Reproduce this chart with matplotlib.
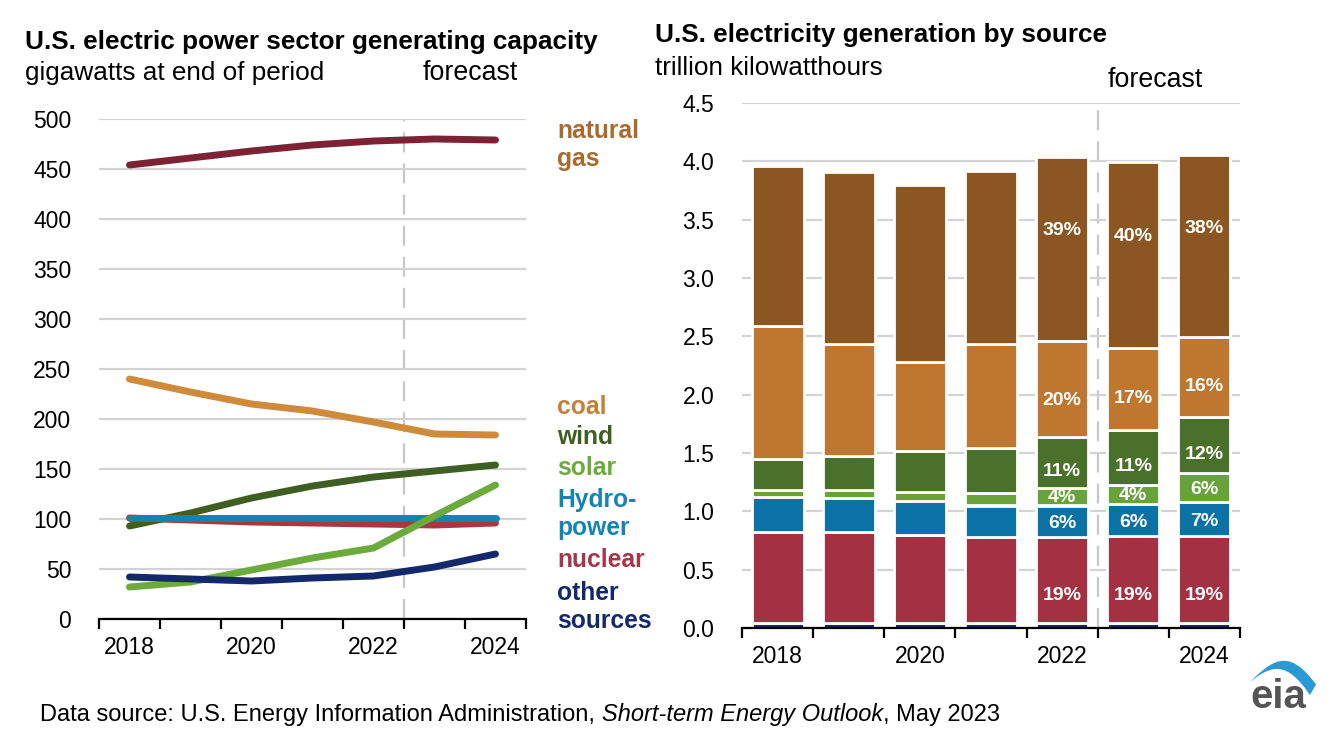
import numpy as np
import matplotlib
matplotlib.use('Agg')
from matplotlib import pyplot as plt
from matplotlib.patches import Polygon

plt.rcParams['font.family'] = ['Liberation Sans', 'DejaVu Sans']

# ---- data: left chart, generating capacity (GW, end of year)
cap_years = [2018, 2019, 2020, 2021, 2022, 2023, 2024]
cap_gas = [454, 461, 468, 474, 478, 480, 479]
cap_coal = [240, 227, 215, 208, 197, 185, 184]
cap_wind = [93, 106, 121, 133, 142, 148, 154]
cap_solar = [32, 37, 49, 61, 71, 103, 134]
cap_hydro = [101, 101, 101, 101, 101, 101, 101]
cap_nuclear = [101, 99, 97, 96, 95, 94, 96]
cap_other = [42, 40, 38, 41, 43, 52, 65]

cap_labels = ['natural\ngas', 'coal', 'wind', 'solar', 'Hydro-\npower', 'nuclear', 'other\nsources']

# ---- data: right chart, generation (trillion kWh)
gen_years = [2018, 2019, 2020, 2021, 2022, 2023, 2024]
gen_other = [0.04, 0.04, 0.04, 0.04, 0.04, 0.04, 0.04]
gen_nuclear = [0.78, 0.78, 0.76, 0.74, 0.74, 0.75, 0.75]
gen_hydro = [0.30, 0.29, 0.285, 0.27, 0.27, 0.27, 0.29]
gen_solar = [0.063, 0.072, 0.08, 0.108, 0.15, 0.166, 0.246]
gen_wind = [0.263, 0.295, 0.351, 0.385, 0.433, 0.471, 0.485]
gen_coal = [1.14, 0.955, 0.764, 0.89, 0.83, 0.70, 0.68]
gen_gas = [1.37, 1.48, 1.52, 1.48, 1.57, 1.60, 1.56]

# share labels for 2022-2024 (percent)
pct_years = [2022, 2023, 2024]
pct_nuclear = [19, 19, 19]
pct_hydro = [6, 6, 7]
pct_solar = [4, 4, 6]
pct_wind = [11, 11, 12]
pct_coal = [20, 17, 16]
pct_gas = [39, 40, 38]

W, H = 1339, 749


def fx(x):
    return x / W


def fy(y):
    return 1 - y / H


fig = plt.figure(figsize=(W / 100, H / 100), dpi=100)

grid_c = '#d3d3d3'
dash_c = '#c8c8c8'
title_fs = 18.8
tick_fs = 16.5

# ================= left chart =================
ax1 = fig.add_axes([fx(99), fy(619), fx(526) - fx(99), fy(119) - fy(619)])
line_cols = ['#7b2335', '#d08a3c', '#3e5e22', '#6aab3b', '#1183b6', '#a8354a', '#13296b']
series = [cap_gas, cap_coal, cap_wind, cap_solar, cap_hydro, cap_nuclear, cap_other]
draw_order = [0, 1, 5, 2, 4, 3, 6]
for i in draw_order:
    ax1.plot(cap_years, series[i], color=line_cols[i], lw=5, solid_capstyle='round', zorder=3)

ax1.set_xlim(2017.5, 2024.5)
ax1.set_ylim(0, 500)
ax1.set_yticks(np.arange(0, 501, 50))
ax1.set_xticks(np.arange(2017.5, 2025, 1))
ax1.set_xticklabels([])
ax1.set_xticks([2018, 2020, 2022, 2024], minor=True)
ax1.set_xticklabels(['2018', '2020', '2022', '2024'], minor=True)
ax1.tick_params(axis='x', which='major', direction='out', length=7, width=1.6, color='black')
ax1.tick_params(axis='x', which='minor', length=0, pad=12, labelsize=tick_fs)
ax1.tick_params(axis='y', length=0, pad=20, labelsize=tick_fs)
ax1.grid(axis='y', color=grid_c, lw=1.6, zorder=0)
for s in ['top', 'right', 'left']:
    ax1.spines[s].set_visible(False)
ax1.spines['bottom'].set_linewidth(1.6)
ax1.axvline(2022.5, color=dash_c, lw=1.6, dashes=(9, 5), zorder=1)

label_cols = ['#a96a2f', '#c47f38', '#3e5e22', '#6aab3b', '#1583b5', '#a8364a', '#13296b']
label_ys = [145, 407, 437, 468, 514, 560, 607]
for txt, col, y in zip(cap_labels, label_cols, label_ys):
    fig.text(fx(557), fy(y), txt, color=col, fontsize=17.7, fontweight='bold',
             va='center', ha='left', linespacing=1.2)

fig.text(fx(25), fy(42), 'U.S. electric power sector generating capacity',
         fontsize=title_fs, fontweight='bold', va='center', ha='left')
fig.text(fx(25), fy(73), 'gigawatts at end of period', fontsize=title_fs, va='center', ha='left')
fig.text(fx(423), fy(73), 'forecast', fontsize=19.3, va='center', ha='left')

# ================= right chart =================
ax2 = fig.add_axes([fx(742), fy(628), fx(1240) - fx(742), fy(103) - fy(628)])
stack = [gen_other, gen_nuclear, gen_hydro, gen_solar, gen_wind, gen_coal, gen_gas]
bar_cols = ['#13296b', '#a33141', '#0b72a6', '#68a33a', '#4a7129', '#bf762f', '#8b5621']
bottom = np.zeros(len(gen_years))
bottoms = []
for vals, col in zip(stack, bar_cols):
    ax2.bar(gen_years, vals, bottom=bottom, width=0.73, color=col,
            edgecolor='white', linewidth=2, zorder=3)
    bottoms.append(bottom.copy())
    bottom = bottom + np.array(vals)

pct_series = [pct_nuclear, pct_hydro, pct_solar, pct_wind, pct_coal, pct_gas]
pct_frac = [0.32, 0.42, 0.45, 0.33, 0.38, 0.6]
for k, (pcts, frac) in enumerate(zip(pct_series, pct_frac)):
    vals = np.array(stack[k + 1])
    base = bottoms[k + 1]
    for yr, p in zip(pct_years, pcts):
        j = gen_years.index(yr)
        ax2.text(yr, base[j] + frac * vals[j], f'{p}%', color='white', fontsize=14,
                 fontweight='bold', ha='center', va='center', zorder=5)

ax2.set_xlim(2017.5, 2024.5)
ax2.set_ylim(0, 4.5)
ax2.set_yticks(np.arange(0, 4.51, 0.5))
ax2.set_yticklabels([f'{v:.1f}' for v in np.arange(0, 4.51, 0.5)])
ax2.set_xticks(np.arange(2017.5, 2025, 1))
ax2.set_xticklabels([])
ax2.set_xticks([2018, 2020, 2022, 2024], minor=True)
ax2.set_xticklabels(['2018', '2020', '2022', '2024'], minor=True)
ax2.tick_params(axis='x', which='major', direction='out', length=7, width=1.6, color='black')
ax2.tick_params(axis='x', which='minor', length=0, pad=12, labelsize=tick_fs)
ax2.tick_params(axis='y', length=0, pad=20, labelsize=tick_fs)
ax2.grid(axis='y', color=grid_c, lw=1.6, zorder=0)
for s in ['top', 'right', 'left']:
    ax2.spines[s].set_visible(False)
ax2.spines['bottom'].set_linewidth(1.6)
ax2.spines['bottom'].set_zorder(6)
ax2.axvline(2022.5, color=dash_c, lw=1.6, dashes=(9, 5), zorder=1)

fig.text(fx(655), fy(35), 'U.S. electricity generation by source',
         fontsize=title_fs, fontweight='bold', va='center', ha='left')
fig.text(fx(655), fy(68), 'trillion kilowatthours', fontsize=title_fs, va='center', ha='left')
fig.text(fx(1108), fy(80), 'forecast', fontsize=19.3, va='center', ha='left')

# ================= footer =================
renderer = fig.canvas.get_renderer()
x0 = fx(40)
parts = [('Data source: U.S. Energy Information Administration, ', 'normal'),
         ('Short-term Energy Outlook', 'italic'),
         (', May 2023', 'normal')]
for txt, style in parts:
    t = fig.text(x0, fy(715), txt, fontsize=17, style=style, va='center', ha='left')
    bb = t.get_window_extent(renderer)
    x0 = x0 + bb.width / W

# ================= eia logo =================
lax = fig.add_axes([fx(1240), fy(720), fx(1330) - fx(1240), fy(650) - fy(720)])
lax.set_xlim(1240, 1330)
lax.set_ylim(720, 650)
lax.axis('off')
t = np.linspace(0, 1, 60)
outer_x = 1250 + 66 * t
outer_y = 682 - 30 * np.sin(np.pi * t * 0.85) + 16 * t
inner_x = 1250 + 60 * t
inner_y = 682 - 24 * np.sin(np.pi * t * 0.85) + 18 * t + 6 * t ** 2
pts = np.vstack([np.column_stack([outer_x, outer_y]),
                 np.column_stack([inner_x, inner_y])[::-1]])
lax.add_patch(Polygon(pts, closed=True, color='#2a9ad6', lw=0))
lax.text(1278, 697, 'eia', fontsize=29, fontweight='bold', color='#555555',
         ha='center', va='center')

fig.savefig('out.png', dpi=100)
